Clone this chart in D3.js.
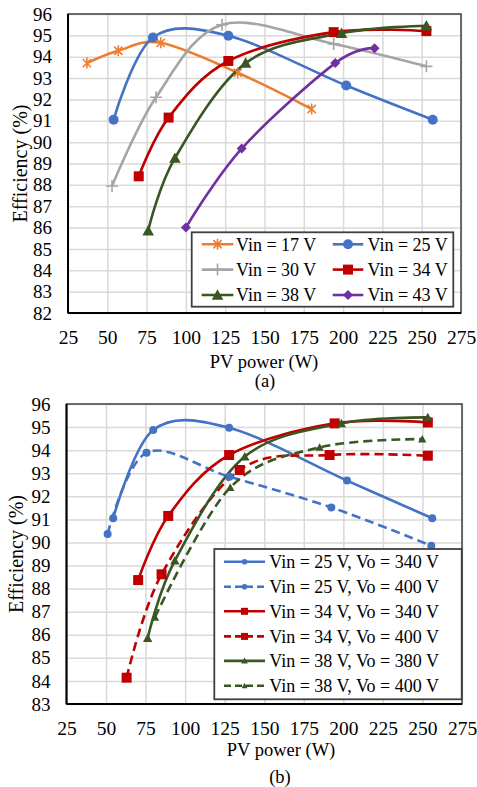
<!DOCTYPE html>
<html><head><meta charset="utf-8">
<script src="https://cdn.jsdelivr.net/npm/d3@7"></script>
<style>
html,body{margin:0;padding:0;background:#fff;}
svg{display:block;font-family:"Liberation Serif","Times New Roman",serif;}
</style></head>
<body>
<script>
// ---------- DATA ----------
const xTicks = [25,50,75,100,125,150,175,200,225,250,275];
const yTicksA = [82,83,84,85,86,87,88,89,90,91,92,93,94,95,96];
const yTicksB = [83,84,85,86,87,88,89,90,91,92,93,94,95,96];

// Panel (a)
const vin17 = [[37,93.7],[57,94.28],[84,94.65],[133,93.25],[180,91.55]];
const vin25 = [[54,91.05],[79,94.9],[127,94.98],[202,92.65],[257,91.05]];
const vin30 = [[53,87.95],[81,92.1],[123,95.5],[194,94.6],[253,93.55]];
const vin34 = [[70,88.4],[89,91.15],[127,93.8],[194,95.15],[253,95.2]];
const vin38 = [[76,85.85],[93,89.25],[138,93.7],[199,95.1],[253,95.45]];
const vin43 = [[100,86.0],[135.5,89.7],[195,93.7],[220,94.4]];
const legendA = ["Vin = 17 V","Vin = 25 V","Vin = 30 V","Vin = 34 V","Vin = 38 V","Vin = 43 V"];

// Panel (b)
const b25_340 = [[54.5,91.05],[79.8,94.87],[127.8,94.97],[202.3,92.68],[256.2,91.05]];
const b25_400 = [[51,90.37],[75.6,93.89],[128,92.85],[192.4,91.52],[255.6,89.86]];
const b34_340 = [[70.3,88.37],[89.3,91.15],[127.8,93.79],[194.5,95.16],[253.4,95.2]];
const b34_400 = [[63,84.14],[85.1,88.62],[134.5,93.14],[191.3,93.79],[253.4,93.76]];
const b38_380 = [[76.3,85.85],[93.5,89.21],[137.7,93.72],[198.7,95.16],[253.4,95.42]];
const b38_400 = [[80.9,86.76],[128.5,92.38],[185,94.12],[249.9,94.48]];
const legendB = ["Vin = 25 V, Vo = 340 V","Vin = 25 V, Vo = 400 V","Vin = 34 V, Vo = 340 V",
                 "Vin = 34 V, Vo = 400 V","Vin = 38 V, Vo = 380 V","Vin = 38 V, Vo = 400 V"];

// ---------- STYLE ----------
const C = {orange:"#ED7D31", blue:"#4472C4", grey:"#A5A5A5", red:"#C00000", green:"#385723", purple:"#7030A0"};

const seriesA = [
  {d:vin17, c:C.orange, m:"asterisk", s:11},
  {d:vin25, c:C.blue, m:"circle", s:10},
  {d:vin30, c:C.grey, m:"plus", s:12},
  {d:vin34, c:C.red, m:"square", s:10},
  {d:vin38, c:C.green, m:"triangle", s:11},
  {d:vin43, c:C.purple, m:"diamond", s:10}
];
const seriesB = [
  {d:b25_340, c:C.blue, m:"circle", s:8, dash:null},
  {d:b25_400, c:C.blue, m:"circle", s:8, dash:"9,5"},
  {d:b34_340, c:C.red, m:"square", s:10, dash:null},
  {d:b34_400, c:C.red, m:"square", s:10, dash:"9,5"},
  {d:b38_380, c:C.green, m:"triangle", s:9, dash:null},
  {d:b38_400, c:C.green, m:"triangle", s:8, dash:"9,5"}
];

const svg = d3.select("body").append("svg").attr("width",477).attr("height",787);

function marker(g, type, x, y, s, col){
  const h = s/2;
  if(type==="circle") g.append("circle").attr("cx",x).attr("cy",y).attr("r",h).attr("fill",col);
  else if(type==="square") g.append("rect").attr("x",x-h).attr("y",y-h).attr("width",s).attr("height",s).attr("fill",col);
  else if(type==="triangle") g.append("path").attr("d",`M${x},${y-h*1.05}L${x+h*1.05},${y+h*0.85}L${x-h*1.05},${y+h*0.85}Z`).attr("fill",col);
  else if(type==="diamond") g.append("path").attr("d",`M${x},${y-h}L${x+h},${y}L${x},${y+h}L${x-h},${y}Z`).attr("fill",col);
  else if(type==="plus") g.append("path").attr("d",`M${x-h},${y}H${x+h}M${x},${y-h}V${y+h}`).attr("stroke",col).attr("stroke-width",1.6).attr("fill","none");
  else if(type==="asterisk"){
    const k=h*0.75;
    g.append("path").attr("d",`M${x},${y-h}V${y+h}M${x-k},${y-k}L${x+k},${y+k}M${x-k},${y+k}L${x+k},${y-k}`)
      .attr("stroke",col).attr("stroke-width",1.6).attr("fill","none");
  }
}

function panel(cfg){
  const {left,right,top,bottom,yDom,yTicks,series,xTitleX,xTitleY,label,labelX,labelY,yTitleX} = cfg;
  const x = d3.scaleLinear().domain([25,275]).range([left,right]);
  const y = d3.scaleLinear().domain(yDom).range([bottom,top]);
  const g = svg.append("g");

  // gridlines via axes
  g.append("g").attr("transform",`translate(0,${bottom})`)
    .call(d3.axisBottom(x).tickValues(xTicks).tickSize(-(bottom-top)).tickFormat(""))
    .call(a=>{a.select(".domain").remove(); a.selectAll("line").attr("stroke","#d9d9d9").attr("stroke-width",1.5);});
  g.append("g").attr("transform",`translate(${left},0)`)
    .call(d3.axisLeft(y).tickValues(yTicks).tickSize(-(right-left)).tickFormat(""))
    .call(a=>{a.select(".domain").remove(); a.selectAll("line").attr("stroke","#d9d9d9").attr("stroke-width",1.5);});

  // border
  g.append("rect").attr("x",left).attr("y",top).attr("width",right-left).attr("height",bottom-top)
    .attr("fill","none").attr("stroke","#404040").attr("stroke-width",1.5);
  g.append("line").attr("x1",left).attr("x2",right).attr("y1",bottom).attr("y2",bottom).attr("stroke","#000").attr("stroke-width",2);
  g.append("line").attr("x1",left).attr("x2",left).attr("y1",top).attr("y2",bottom).attr("stroke","#000").attr("stroke-width",2);

  // tick labels
  g.append("g").attr("transform",`translate(0,${bottom})`)
    .call(d3.axisBottom(x).tickValues(xTicks).tickSize(0).tickPadding(17))
    .call(a=>{a.select(".domain").remove(); a.selectAll("text").attr("font-family","Liberation Serif").attr("font-size",19.5).attr("fill","#000");});
  g.append("g").attr("transform",`translate(${left},0)`)
    .call(d3.axisLeft(y).tickValues(yTicks).tickSize(0).tickPadding(16))
    .call(a=>{a.select(".domain").remove(); a.selectAll("text").attr("font-family","Liberation Serif").attr("font-size",19).attr("fill","#000");});

  // series
  const clipLine = d3.line().x(d=>x(d[0])).y(d=>y(d[1])).curve(d3.curveCatmullRom.alpha(0));
  series.forEach(s=>{
    g.append("path").attr("d",clipLine(s.d)).attr("fill","none").attr("stroke",s.c)
      .attr("stroke-width",2.6).attr("stroke-dasharray",s.dash||null);
  });
  series.forEach(s=>{
    s.d.forEach(p=>marker(g,s.m,x(p[0]),y(p[1]),s.s,s.c));
  });

  // titles
  svg.append("text").attr("x",xTitleX).attr("y",xTitleY).attr("text-anchor","middle")
    .attr("font-size",18.5).text("PV power (W)");
  svg.append("text").attr("x",labelX).attr("y",labelY).attr("text-anchor","middle")
    .attr("font-size",18.5).text(label);
  svg.append("text").attr("transform",`translate(${yTitleX},${(top+bottom)/2}) rotate(-90)`)
    .attr("text-anchor","middle").attr("font-size",20).text("Efficiency (%)");
  return {x,y};
}

panel({left:68,right:461,top:14,bottom:313,yDom:[82,96],yTicks:yTicksA,series:seriesA,
  xTitleX:264,xTitleY:368,label:"(a)",labelX:265,labelY:387,yTitleX:27});
panel({left:66.5,right:462,top:404,bottom:704,yDom:[83,96],yTicks:yTicksB,series:seriesB,
  xTitleX:281,xTitleY:756,label:"(b)",labelX:280,labelY:783,yTitleX:23});

// Legend (a)
(function(){
  const g = svg.append("g");
  g.append("rect").attr("x",191.7).attr("y",232.3).attr("width",261.6).attr("height",74.4)
    .attr("fill","#fff").attr("stroke","#404040").attr("stroke-width",1.8);
  const rows=[244.3,269.6,295], cols=[{l0:201.7,l1:233.3,t:236},{l0:332.7,l1:363.3,t:367.5}];
  seriesA.forEach((s,i)=>{
    const r=rows[Math.floor(i/2)], c=cols[i%2];
    g.append("line").attr("x1",c.l0).attr("x2",c.l1).attr("y1",r).attr("y2",r).attr("stroke",s.c).attr("stroke-width",2.6);
    marker(g,s.m,(c.l0+c.l1)/2,r,s.s,s.c);
    g.append("text").attr("x",c.t).attr("y",r+6.3).attr("font-size",18).text(legendA[i]);
  });
})();

// Legend (b)
(function(){
  const g = svg.append("g");
  g.append("rect").attr("x",214.3).attr("y",549).attr("width",247.4).attr("height",150.3)
    .attr("fill","#fff").attr("stroke","#404040").attr("stroke-width",1.8);
  const rows=[561.7,586.7,611.3,636.4,660.9,685.8];
  seriesB.forEach((s,i)=>{
    const r=rows[i];
    g.append("line").attr("x1",224).attr("x2",265).attr("y1",r).attr("y2",r).attr("stroke",s.c)
      .attr("stroke-width",2.6).attr("stroke-dasharray",s.dash?"7,4":null);
    marker(g,s.m,244.5,r,s.s*0.7,s.c);
    g.append("text").attr("x",269.3).attr("y",r+6.3).attr("font-size",18).text(legendB[i]);
  });
})();
</script>
</body></html>
